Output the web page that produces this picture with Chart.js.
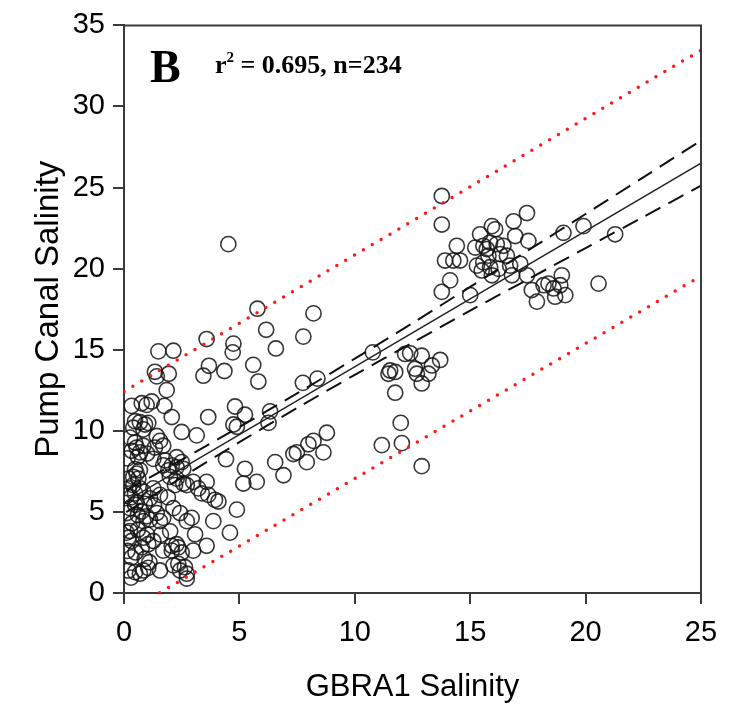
<!DOCTYPE html>
<html><head><meta charset="utf-8">
<script src="https://cdn.jsdelivr.net/npm/chart.js@4.4.0/dist/chart.umd.min.js"></script>
<style>html,body{margin:0;padding:0;background:#fff}#wrap{position:relative;width:730px;height:707px}</style>
</head><body><div id="wrap"><canvas id="c" width="730" height="707"></canvas></div>
<script>
// GBRA1 salinity (x) vs Pump Canal salinity (y), one pair per sample
const samples = [
[4.52,21.51],[5.78,17.53],[8.21,17.24],[6.16,16.23],[7.77,15.81],[3.58,15.66],[4.74,15.38],[4.71,14.84],[6.58,15.08],[1.49,14.90],
[2.14,14.94],[3.68,14.01],[3.44,13.40],[4.35,13.69],[5.60,14.07],[5.82,13.04],[1.34,13.64],[1.42,13.36],[1.94,13.52],[1.85,12.51],
[7.75,12.96],[8.38,13.22],[0.33,11.54],[0.77,11.70],[0.98,11.60],[1.20,11.81],[1.75,11.54],[4.81,11.50],[5.24,10.99],[3.65,10.85],
[2.07,10.85],[4.74,10.39],[4.89,10.25],[6.33,11.20],[6.26,10.49],[2.50,9.93],[3.15,9.72],
[0.48,10.59],[0.69,10.53],[0.91,10.39],[0.40,10.19],[0.84,10.09],[1.05,10.49],[0.26,9.58],[0.48,9.28],[0.33,8.77],[0.55,8.97],
[1.42,9.68],[1.56,9.38],[1.70,9.08],[1.34,8.97],[0.84,9.08],[0.69,8.67],[2.28,8.37],[2.50,8.07],[4.42,8.25],[5.24,7.66],
[5.75,6.85],[5.17,6.75],[0.48,7.64],[0.69,7.58],[0.55,7.36],[0.40,7.16],[0.62,7.05],[0.19,7.05],[0.19,6.45],[0.40,6.65],
[0.69,6.45],[0.48,6.14],[0.84,6.25],[1.27,8.27],[1.70,7.87],[1.92,7.56],[1.99,7.16],[2.28,7.05],[2.21,6.65],[2.57,6.75],
[2.72,6.65],[3.00,6.85],[3.22,6.45],[3.37,6.14],[3.65,6.05],[3.58,6.85],[3.94,5.74],[4.09,5.64],[1.27,6.45],[1.56,6.05],
[1.13,5.84],[0.26,5.23],[0.48,5.44],[0.12,4.93],[0.77,5.03],[0.98,4.73],[0.84,4.43],[1.13,4.53],[1.42,4.93],[1.70,4.63],
[1.56,4.43],[2.14,5.23],[2.43,4.93],[2.72,4.43],[2.93,4.63],[3.87,4.43],[4.89,5.14],[4.59,3.72],[3.08,3.62],[3.00,2.61],
[3.58,2.91],[0.26,3.82],[0.19,3.41],[0.33,3.21],[0.12,3.72],[0.84,3.41],[1.05,3.01],[0.77,2.81],[1.27,3.21],[1.70,2.61],
[2.07,2.91],[2.35,2.81],[0.33,2.20],[0.19,1.39],[0.48,1.29],[0.69,1.19],[0.84,1.39],[1.56,1.39],[2.14,1.70],[2.35,1.80],
[2.43,1.39],[2.72,1.19],[2.64,1.59],[2.72,0.89],
[6.55,8.07],[6.91,7.26],[7.49,8.67],[2.57,7.66],[2.28,7.76],[1.78,8.17],[2.07,7.87],[2.28,3.01],[2.07,2.61],[2.50,2.50],
[8.79,9.88],[8.21,9.38],[7.92,8.07],[8.64,8.67],[7.34,8.57],[7.99,9.17],
[10.78,14.84],[12.18,14.74],[12.40,14.78],[12.90,14.63],[13.70,14.37],[11.53,13.72],[11.46,13.52],[11.75,13.63],[12.61,13.83],[12.69,13.52],
[13.34,14.03],[13.19,13.52],[12.90,12.92],[11.75,12.35],[11.99,10.49],[11.17,9.12],[12.04,9.24],[12.90,7.82],
[13.77,24.48],[13.77,22.72],[17.46,23.43],[16.88,22.92],[15.94,22.62],[16.08,22.42],[15.43,22.12],[14.42,21.41],[13.91,20.50],[14.27,20.50],
[14.56,20.50],[15.22,21.30],[15.57,21.41],[15.86,21.61],[15.72,21.21],[16.15,21.51],[16.44,21.41],[16.95,22.01],[17.52,21.71],[15.79,20.80],
[15.57,20.39],[16.30,20.90],[16.59,20.80],[15.29,20.19],[15.50,19.89],[15.86,20.09],[16.23,19.99],[16.73,20.19],[17.17,20.30],[15.94,19.59],
[16.81,19.59],[17.46,19.59],[14.13,19.28],[13.77,18.57],[15.00,18.37],[19.04,22.21],[19.91,22.62],[21.28,22.12],[18.97,19.59],[20.56,19.08],
[17.67,18.68],[17.89,17.97],[18.18,18.98],[18.39,19.08],[18.61,18.78],[18.90,18.98],[18.68,18.27],[19.12,18.37],
[0.12,6.00],[0.30,5.90],[0.55,5.60],[0.90,5.50],[0.15,8.30],[0.60,8.40],[1.00,8.60],[0.35,4.30],[0.60,3.90],[1.00,3.60],
[0.50,2.50],[0.90,2.10],[0.15,2.60],[1.10,1.90],[0.60,4.80],[1.30,5.40],[1.90,5.90],[1.60,3.60],[2.00,3.80],[0.30,0.95],[1.05,1.55]
];

// regression line (solid)
const fitX = [0.1, 25];
const fitY = [5.66, 26.51];
// 95% confidence band (dashed)
const bandX = [0.1, 2.5, 5, 7.5, 10, 12.5, 15, 17.5, 20, 22.5, 25];
const bandUpper = [6.33, 8.22, 10.24, 12.31, 14.45, 16.64, 18.88, 21.12, 23.37, 25.63, 27.90];
const bandLower = [4.99, 7.12, 9.30, 11.41, 13.45, 15.44, 17.41, 19.34, 21.27, 23.19, 25.12];
// 95% prediction interval (red dotted)
const predX = [0, 25];
const predUpper = [12.43, 33.47];
const predLower = [-1.27, 19.55];

const xTicks = [0, 5, 10, 15, 20, 25];
const yTicks = [0, 5, 10, 15, 20, 25, 30, 35];
const xTitle = 'GBRA1 Salinity';
const yTitle = 'Pump Canal Salinity';
const panelLetter = 'B';
const statText = ' = 0.695, n=234';

const pairs = (xs, ys) => xs.map((x, i) => ({x, y: ys[i]}));
const AX = '#3a3a3a';

const frame = {
  id: 'frame',
  afterDraw(chart) {
    const {ctx, chartArea: a} = chart;
    ctx.save();
    ctx.strokeStyle = AX; ctx.lineWidth = 2;
    ctx.beginPath();
    ctx.moveTo(a.left, a.top); ctx.lineTo(a.right, a.top); ctx.lineTo(a.right, a.bottom);
    ctx.stroke();
    ctx.fillStyle = '#000';
    ctx.textBaseline = 'alphabetic';
    ctx.font = 'bold 46px "Liberation Serif", "Times New Roman", serif';
    ctx.fillText(panelLetter, a.left + 26, a.top + 57);
    ctx.font = 'bold 26px "Liberation Serif", "Times New Roman", serif';
    let x = a.left + 91, y = a.top + 48;
    ctx.fillText('r', x, y);
    x += ctx.measureText('r').width;
    ctx.font = 'bold 15px "Liberation Serif", "Times New Roman", serif';
    ctx.fillText('2', x, y - 11);
    x += ctx.measureText('2').width;
    ctx.font = 'bold 26px "Liberation Serif", "Times New Roman", serif';
    ctx.fillText(statText, x, y);
    ctx.restore();
  }
};

Chart.defaults.font.family = '"Liberation Sans", Arial, sans-serif';
new Chart(document.getElementById('c'), {
  type: 'scatter',
  data: {
    datasets: [
      {label: 'pred upper', data: pairs(predX, predUpper), showLine: true, pointRadius: 0, borderColor: '#ff1a1a',
       borderWidth: 3.5, borderDash: [0, 10.3], borderCapStyle: 'round', fill: false},
      {label: 'pred lower', data: pairs(predX, predLower), showLine: true, pointRadius: 0, borderColor: '#ff1a1a',
       borderWidth: 3.5, borderDash: [0, 10.3], borderCapStyle: 'round', fill: false},
      {label: 'fit', data: pairs(fitX, fitY), showLine: true, pointRadius: 0, borderColor: '#222', borderWidth: 1.4},
      {label: 'ci upper', data: pairs(bandX, bandUpper), showLine: true, pointRadius: 0, borderColor: '#111',
       borderWidth: 2, borderDash: [17, 9], tension: 0.3},
      {label: 'ci lower', data: pairs(bandX, bandLower), showLine: true, pointRadius: 0, borderColor: '#111',
       borderWidth: 2, borderDash: [17, 9], tension: 0.3},
      {label: 'samples', data: samples.map(p => ({x: p[0], y: p[1]})), pointStyle: 'circle', pointRadius: 7.6,
       pointHoverRadius: 7.6, pointBorderWidth: 1.6, borderColor: 'rgba(20,20,20,0.85)', backgroundColor: 'rgba(0,0,0,0)', showLine: false}
    ]
  },
  options: {
    responsive: false, animation: false, events: [],
    layout: {padding: {top: 17, right: 29, left: 0, bottom: 0}},
    plugins: {legend: {display: false}, tooltip: {enabled: false}},
    scales: {
      x: {
        type: 'linear', min: 0, max: 25,
        afterBuildTicks: s => { s.ticks = xTicks.map(v => ({value: v})); },
        afterFit: s => { s.height = 114; },
        grid: {drawOnChartArea: false, drawTicks: true, tickLength: 11, color: AX, lineWidth: 2},
        border: {display: true, color: AX, width: 2},
        ticks: {color: '#000', font: {size: 29}, padding: 12, maxRotation: 0},
        title: {display: true, text: xTitle, color: '#000', font: {size: 31}, padding: {top: 0, bottom: 1}}
      },
      y: {
        type: 'linear', min: 0, max: 35,
        afterBuildTicks: s => { s.ticks = yTicks.map(v => ({value: v})); },
        afterFit: s => { s.width = 124; },
        grid: {drawOnChartArea: false, drawTicks: true, tickLength: 11, color: AX, lineWidth: 2},
        border: {display: true, color: AX, width: 2},
        ticks: {color: '#000', font: {size: 29}, padding: 8},
        title: {display: true, text: yTitle, color: '#000', font: {size: 33}, padding: {top: 29, bottom: 0}}
      }
    }
  },
  plugins: [frame]
});
</script></body></html>
